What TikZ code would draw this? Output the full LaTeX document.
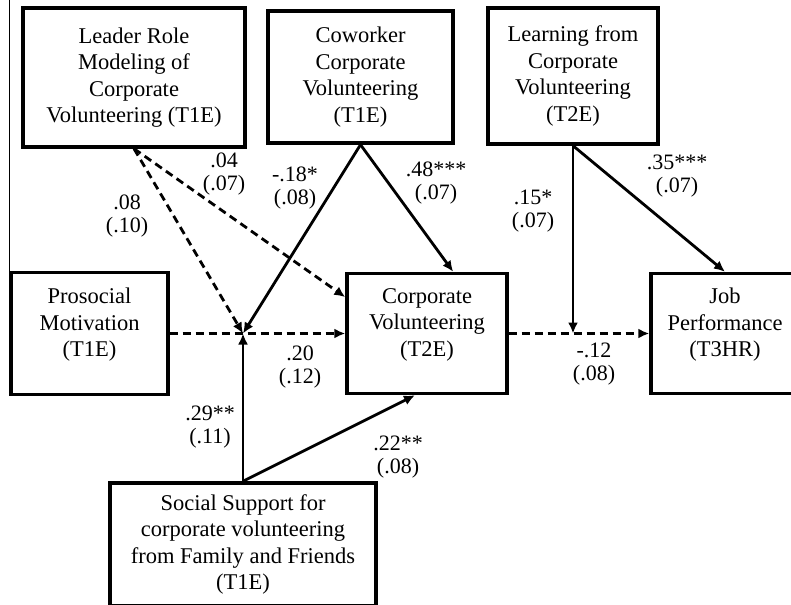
\documentclass[tikz,border=0pt]{standalone}
\usepackage{fontspec}
\setmainfont{Liberation Serif}
\usetikzlibrary{arrows.meta}

\tikzset{
  varbox/.style={draw, line width=3.4pt, align=center, inner sep=0pt,
    font=\fontsize{22.5}{26.5}\selectfont},
  coef/.style={align=center, inner sep=0pt, font=\fontsize{22}{23}\selectfont},
  sigpath/.style={line width=2.8pt, ->},
  nspath/.style={line width=2.8pt, ->, dash pattern=on 8pt off 5pt},
}

\begin{document}
\begin{tikzpicture}[x=1pt, y=-1pt, >={Latex[length=11pt,width=10pt]}]
    \useasboundingbox (0,0) rectangle (791,604);
    \draw[line width=0.6pt] (9,0) -- (9,307);

    \node[varbox, minimum width=222pt, minimum height=139pt] (leader) at (134,77.5) {Leader Role\\Modeling of\\Corporate\\Volunteering (T1E)};
    \node[varbox, minimum width=185pt, minimum height=132pt] (coworker) at (360.5,77) {Coworker\\Corporate\\Volunteering\\(T1E)};
    \node[varbox, minimum width=170pt, minimum height=136pt] (learning) at (573,76) {Learning from\\Corporate\\Volunteering\\(T2E)};
    \node[varbox, minimum width=157pt, minimum height=122pt] (prosocial) at (89.5,333.5) {Prosocial\\Motivation\\(T1E)\\[-4pt]\mbox{}};
    \node[varbox, minimum width=160pt, minimum height=120pt] (cv) at (427,333.5) {Corporate\\Volunteering\\(T2E)\\[-4pt]\mbox{}};
    \node[varbox, minimum width=148pt, minimum height=120pt] (jp) at (725,333.5) {Job\\Performance\\(T3HR)\\[-4pt]\mbox{}};
    \node[varbox, minimum width=266pt, minimum height=123pt] (social) at (243,544.5) {Social Support for\\corporate volunteering\\from Family and Friends\\(T1E)};

    \coordinate (mod1) at (social.north |- cv.west);
    \coordinate (mod2) at (learning.south |- cv.east);

    \draw[nspath] (leader.south) -- (mod1);
    \draw[nspath] (leader.south) -- (cv.156);
    \draw[sigpath] (coworker.south) -- (mod1);
    \draw[sigpath] (coworker.south) -- (cv.67);
    \draw[nspath] (prosocial.east) -- (cv.west);
    \draw[sigpath] (social.north) -- (mod1);
    \draw[sigpath] (social.north) -- (cv.259);
    \draw[nspath] (cv.east) -- (jp.west);
    \draw[sigpath] (learning.south) -- (mod2);
    \draw[sigpath] (learning.south) -- (jp.north);

    \node[coef] (c04) at (224,174) {.04\\(.07)};
    \node[coef] (c08) at (127,216) {.08\\(.10)};
    \node[coef] (c18) at (295,188) {-.18*\\(.08)};
    \node[coef] (c48) at (436,183) {.48***\\(.07)};
    \node[coef] (c15) at (533,211) {.15*\\(.07)};
    \node[coef] (c35) at (677,176) {.35***\\(.07)};
    \node[coef] (c20) at (300,367) {.20\\(.12)};
    \node[coef] (c29) at (210,427) {.29**\\(.11)};
    \node[coef] (c22) at (398,457) {.22**\\(.08)};
    \node[coef] (c12) at (594,364) {-.12\\(.08)};

\end{tikzpicture}
\end{document}
